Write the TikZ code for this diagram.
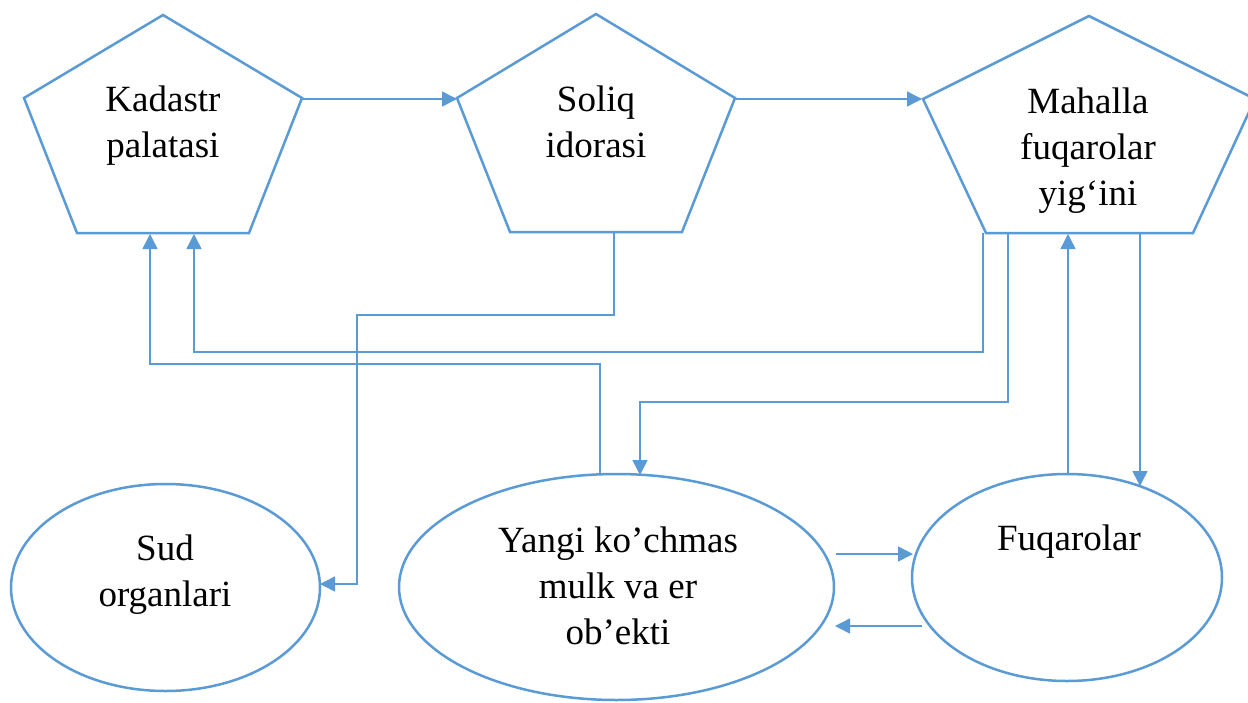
\documentclass[tikz,border=0pt]{standalone}
\usepackage{fontspec}
\setmainfont{Liberation Serif}
\usetikzlibrary{arrows.meta,shapes.geometric}
\definecolor{lineblue}{HTML}{5B9BD5}
\begin{document}
\begin{tikzpicture}[x=1pt,y=-1pt,
  shapeline/.style={draw=lineblue,line width=2.5pt,line join=miter},
  conn/.style={draw=lineblue,line width=1.5pt,-{Triangle[length=15pt,width=15pt]}},
  ell/.style={shapeline,ellipse,inner sep=0pt},
  lbl/.style={align=center,inner sep=0pt,anchor=base,font=\fontsize{37}{46}\selectfont}]
\useasboundingbox (0,0) rectangle (1248,702);
\fill[white] (0,0) rectangle (1248,702);
% pentagons
\draw[shapeline] (163,15) -- (302,98) -- (249,233) -- (77,233) -- (24,98) -- cycle;
\draw[shapeline] (596,14) -- (735,98) -- (682,232) -- (510,232) -- (457,98) -- cycle;
\draw[shapeline] (1089,16) -- (1255,99) -- (1193,233) -- (986,233) -- (923,99) -- cycle;
% ellipses
\node[ell,minimum width=309pt,minimum height=207pt] (sud) at (165.5,587.5) {};
\node[ell,minimum width=435pt,minimum height=226pt] (yangi) at (616.5,587) {};
\node[ell,minimum width=310pt,minimum height=207pt] (fuq) at (1067,577.5) {};
% labels (anchor = baseline of last line)
\node[lbl] (kadtxt) at (163,157) {Kadastr\\palatasi};
\node[lbl] (soltxt) at (596,157) {Soliq\\idorasi};
\node[lbl] (mahtxt) at (1088,205) {Mahalla\\fuqarolar\\yig‘ini};
\node[lbl] (sudtxt) at (165,606) {Sud\\organlari};
\node[lbl] (yangitxt) at (618,644) {Yangi ko’chmas\\mulk va er\\ob’ekti};
\node[lbl] (fuqtxt) at (1069,550) {Fuqarolar};
% connector end points
\coordinate (kadR) at (302,99);
\coordinate (solL) at (457,99);
\coordinate (solR) at (735,99);
\coordinate (mahL) at (922,99);
\coordinate (kadB1) at (150,234);
\coordinate (kadB2) at (194,234);
\coordinate (solB) at (614,233);
\coordinate (mahB1) at (983,233);
\coordinate (mahB2) at (1008,234);
\coordinate (mahB3) at (1068,234);
\coordinate (mahB4) at (1140,234);
\coordinate (yangiT1) at (600,475);
\coordinate (yangiT2) at (640,475);
\coordinate (yangiR1) at (836,554);
\coordinate (yangiR2) at (835,626);
\coordinate (fuqL1) at (913,554);
\coordinate (fuqL2) at (922,626);
\coordinate (fuqT1) at (1068,475);
\coordinate (fuqT2) at (1140,486);
\coordinate (sudR) at (320,584);
\coordinate (sudbend) at (357,584);
% connectors
\draw[conn] (kadR) -- (solL);
\draw[conn] (solR) -- (mahL);
\draw[conn] (yangiT1) -- (yangiT1 |- 0,364) -| (kadB1);
\draw[conn] (mahB1) -- (mahB1 |- 0,352) -| (kadB2);
\draw[conn] (solB) -- (solB |- 0,315) -| (sudbend) -- (sudR);
\draw[conn] (mahB2) -- (mahB2 |- 0,402) -| (yangiT2);
\draw[conn] (fuqT1) -- (mahB3);
\draw[conn] (mahB4) -- (fuqT2);
\draw[conn] (yangiR1) -- (fuqL1);
\draw[conn] (fuqL2) -- (yangiR2);
\end{tikzpicture}
\end{document}
